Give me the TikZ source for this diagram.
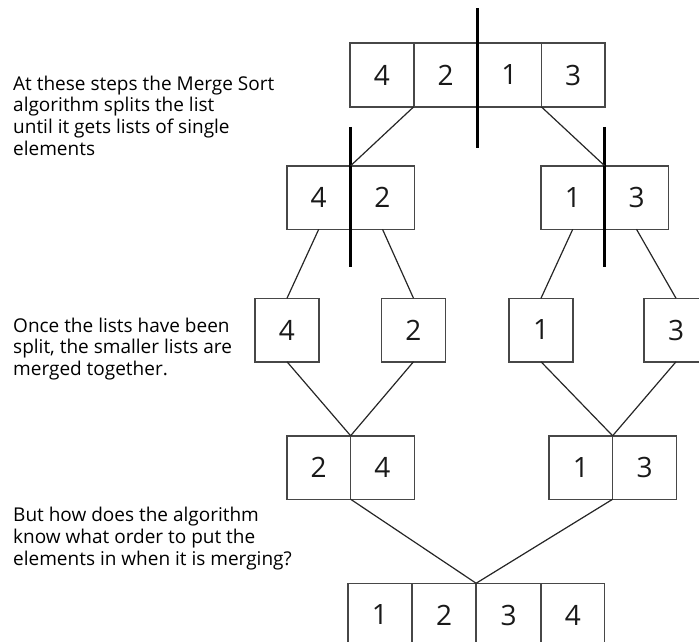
\documentclass[tikz,border=0pt]{standalone}
\usepackage{fontspec}
\setmainfont{Open Sans}
\usepackage{tikz}
\usetikzlibrary{positioning}

\begin{document}
\begin{tikzpicture}[x=1pt, y=-1pt,
      cell/.style={draw=black!72, line width=1.5pt, minimum width=63.75pt,
          minimum height=63.5pt, inner sep=0pt, outer sep=0pt,
          font=\fontsize{28}{28}\selectfont, text=black!90},
      link/.style={draw=black!85, line width=1.2pt},
      cut/.style={draw=black, line width=3.6pt},
      note/.style={anchor=base west, align=left, inner sep=0pt, text=black,
          font=\fontsize{19}{21.6}\selectfont},
    ]
    \useasboundingbox (0,0) rectangle (699,642);

    % Row 1: the whole list
    \foreach \n/\v [count=\i from 0] in {ta/4, tb/2, tc/1, td/3} {
        \node[cell] (\n) at ({381.9+63.75*\i}, 75) {\v};
      }

    % Row 2: the two halves
    \node[cell] (la) at (318.75, 197.5) {4};
    \node[cell] (lb) at (382.5, 197.5) {2};
    \node[cell] (ra) at (572.75, 197.5) {1};
    \node[cell] (rb) at (636.5, 197.5) {3};

    % Row 3: single elements
    \node[cell] (s4) at (287, 330) {4};
    \node[cell] (s2) at (413.5, 330) {2};
    \node[cell] (s1) at (541, 330) {1};
    \node[cell] (s3) at (676, 330) {3};

    % Row 4: merged pairs
    \node[cell] (ma) at (318.75, 467.5) {2};
    \node[cell] (mb) at (382.5, 467.5) {4};
    \node[cell] (mc) at (580.75, 467.5) {1};
    \node[cell] (md) at (644.5, 467.5) {3};

    % Row 5: the sorted list
    \foreach \n/\v [count=\i from 0] in {fa/1, fb/2, fc/3, fd/4} {
        \node[cell] (\n) at ({380+64.25*\i}, 615) {\v};
      }

    % Split marks
    \draw[cut] ([yshift=35pt]tb.north east) -- ([yshift=-41pt]tb.south east);
    \draw[cut] ([yshift=39pt]la.north east) -- ([yshift=-38pt]la.south east);
    \draw[cut] ([yshift=39pt]ra.north east) -- ([yshift=-38pt]ra.south east);

    % Splitting
    \draw[link] (ta.south east) -- (la.north east);
    \draw[link] (tc.south east) -- (ra.north east);
    \draw[link] (la.south) -- (s4.north);
    \draw[link] (lb.south) -- (s2.north);
    \draw[link] (ra.south) -- (s1.north);
    \draw[link] (rb.south) -- (s3.north);

    % Merging
    \draw[link] (s4.south) -- (ma.north east);
    \draw[link] (s2.south) -- (ma.north east);
    \draw[link] (s1.south) -- (mc.north east);
    \draw[link] (s3.south) -- (mc.north east);
    \draw[link] (ma.south east) -- (fb.north east);
    \draw[link] (mc.south east) -- (fb.north east);

    % Side notes
    \node[note] (split) at (13, 155) {At these steps the Merge Sort\\algorithm splits the list\\until it gets lists of single\\elements};
    \node[note] (merge) at (13, 375.5) {Once the lists have been\\split, the smaller lists are\\merged together.};
    \node[note] (question) at (13, 565) {But how does the algorithm\\know what order to put the\\elements in when it is merging?};
  \end{tikzpicture}
\end{document}
